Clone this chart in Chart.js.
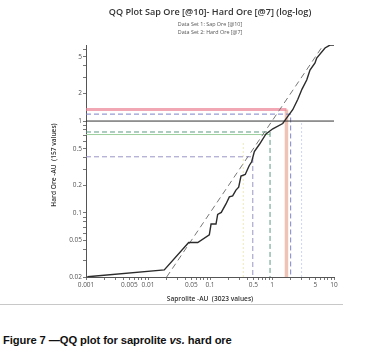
<!DOCTYPE html>
<html>
<head>
<meta charset="utf-8">
<script src="https://cdn.jsdelivr.net/npm/chart.js@4.4.1/dist/chart.umd.min.js"></script>
<style>
    body { margin: 0; background: #fff; }
    #wrap { position: relative; width: 369px; height: 354px; }
    #rule { position: absolute; left: 0; top: 304px; width: 343px; height: 1px; background: #c8c8c8; }
    #caption { position: absolute; left: 3px; top: 334px; font: bold 11.2px "Liberation Sans", Arial, sans-serif; color: #111; white-space: nowrap; letter-spacing: -0.1px; }
    #caption i { font-style: italic; }
</style>
</head>
<body>
<div id="wrap">
    <canvas id="qq" width="369" height="312"></canvas>
    <div id="rule"></div>
    <div id="caption">Figure 7 —QQ plot for saprolite <i>vs.</i> hard ore</div>
</div>
<script>
    // quantiles (saprolite on x, hard ore on y)
    const sapQ = [0.00105, 0.0183, 0.0453, 0.0634, 0.0975, 0.104, 0.125, 0.133, 0.152, 0.181, 0.205, 0.232, 0.262, 0.29, 0.316, 0.37, 0.43, 0.47, 0.519, 0.624, 0.8, 1.03, 1.49, 1.81, 2.16, 2.6, 3.05, 3.63, 4.1, 4.94, 5.26, 7.16, 8.62, 10]
    const hardQ = [0.0201, 0.0239, 0.0475, 0.0475, 0.0577, 0.0755, 0.0755, 0.096, 0.101, 0.125, 0.149, 0.153, 0.177, 0.19, 0.252, 0.262, 0.328, 0.36, 0.466, 0.555, 0.723, 0.824, 0.94, 1.13, 1.33, 1.72, 2.23, 2.8, 3.6, 4.29, 4.86, 6.25, 6.73, 6.73]

    // marker lines: [position on saprolite, level on hard ore]
    const pinkMark = [1.71, 1.34]
    const blueMark = [2.0, 1.19]
    const tealMark = [0.93, 0.76]
    const purpleMark = [0.49, 0.408]
    const greenLevel = 0.713
    const blackLevel = 1

    const xMin = 0.001, xMax = 10
    const yMin = 0.02, yMax = 6.74
    const xTickLabels = [0.001, 0.005, 0.01, 0.05, 0.1, 0.5, 1, 5, 10]
    const yTickLabels = [0.02, 0.05, 0.1, 0.2, 0.5, 1, 2, 5]

    const fam = '"Open Sans", "DejaVu Sans", sans-serif'

    // 1..9 x decade marks between lo and hi
    function minorTicks(lo, hi) {
        let out = []
        for (let e = Math.floor(Math.log10(lo)); e <= Math.ceil(Math.log10(hi)); e++) {
            for (let m = 1; m < 10; m++) {
                let v = +(m * Math.pow(10, e)).toPrecision(3)
                if (v >= lo && v <= hi) out.push(v)
            }
        }
        return out
    }

    function corner(mark) {
        return [{ x: xMin, y: mark[1] }, { x: mark[0], y: mark[1] }, { x: mark[0], y: yMin }]
    }

    let curve = sapQ.map((x, i) => ({ x: x, y: hardQ[i] }))

    const textPlugin = {
        id: 'texts',
        afterDraw(chart) {
            let ctx = chart.ctx
            ctx.save()
            ctx.fillStyle = '#333'
            ctx.textAlign = 'center'
            ctx.textBaseline = 'middle'
            ctx.font = '600 9.1px ' + fam
            ctx.fillText('QQ Plot Sap Ore [@10]- Hard Ore [@7] (log-log)', 210, 12.5)
            ctx.font = '5.4px ' + fam
            ctx.fillStyle = '#555'
            ctx.fillText('Data Set 1: Sap Ore [@10]', 210, 24)
            ctx.fillText('Data Set 2: Hard Ore [@7]', 210, 32)
            ctx.fillStyle = '#333'
            ctx.font = '600 6.6px ' + fam
            ctx.fillText('Saprolite -AU  (3023 values)', 210, 299)
            ctx.translate(54, 165)
            ctx.rotate(-Math.PI / 2)
            ctx.fillText('Hard Ore -AU  (157 values)', 0, 0)
            ctx.restore()
        }
    }

    new Chart(document.getElementById('qq'), {
        type: 'scatter',
        data: {
            datasets: [
                { data: curve, borderColor: '#2b2b2b', borderWidth: 1.4 },
                { data: [{ x: yMin, y: yMin }, { x: yMax, y: yMax }], borderColor: '#777', borderWidth: 1, borderDash: [6, 4] },
                { data: [{ x: xMin, y: blackLevel }, { x: xMax, y: blackLevel }], borderColor: '#333', borderWidth: 1 },
                { data: corner(blueMark), borderColor: '#7d84c8', borderWidth: 1, borderDash: [5, 3] },
                { data: corner(tealMark), borderColor: '#5f9a84', borderWidth: 1, borderDash: [5, 3] },
                { data: [{ x: xMin, y: greenLevel }, { x: tealMark[0], y: greenLevel }], borderColor: '#9ccf9c', borderWidth: 1 },
                { data: corner(purpleMark), borderColor: '#9a96c8', borderWidth: 1, borderDash: [5, 3] },
                { data: corner(pinkMark).slice(0, 2), borderColor: 'rgba(236,130,150,0.7)', borderWidth: 3 },
                { data: corner(pinkMark).slice(1), borderColor: 'rgba(232,170,150,0.7)', borderWidth: 3.5 },
                { data: [{ x: 0.344, y: yMin }, { x: 0.344, y: 0.6 }], borderColor: '#eee9bb', borderWidth: 1, borderDash: [2, 2] },
                { data: [{ x: 3.0, y: yMin }, { x: 3.0, y: 1.0 }], borderColor: '#cdd6f0', borderWidth: 1, borderDash: [2, 2] }
            ].map(d => Object.assign({ showLine: true, pointRadius: 0, fill: false, tension: 0 }, d))
        },
        options: {
            responsive: false,
            animation: false,
            layout: { padding: { top: 45, right: 35, bottom: 0, left: 0 } },
            plugins: { legend: { display: false }, tooltip: { enabled: false } },
            scales: {
                x: {
                    type: 'logarithmic',
                    min: xMin,
                    max: xMax,
                    afterBuildTicks: s => { s.ticks = minorTicks(xMin, xMax).map(v => ({ value: v })) },
                    afterFit: s => { s.height = 35 },
                    ticks: {
                        autoSkip: false, maxRotation: 0, padding: 1, color: '#555',
                        font: { size: 6.5, family: fam },
                        callback: v => xTickLabels.includes(v) ? String(v) : ''
                    },
                    grid: { drawOnChartArea: false, tickLength: 3, color: '#777' },
                    border: { color: '#555' }
                },
                y: {
                    type: 'logarithmic',
                    min: yMin,
                    max: yMax,
                    afterBuildTicks: s => { s.ticks = minorTicks(yMin, 6).map(v => ({ value: v })) },
                    afterFit: s => { s.width = 86 },
                    ticks: {
                        autoSkip: false, padding: 1, color: '#555',
                        font: { size: 6.5, family: fam },
                        callback: v => yTickLabels.includes(v) ? String(v) : ''
                    },
                    grid: { drawOnChartArea: false, tickLength: 3, color: '#777' },
                    border: { color: '#555' }
                }
            }
        },
        plugins: [textPlugin]
    })
</script>
</body>
</html>
